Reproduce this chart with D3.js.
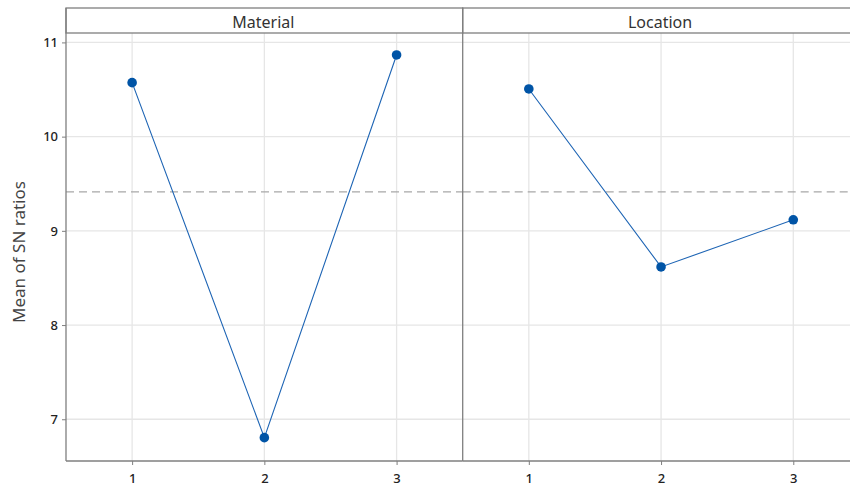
<!DOCTYPE html>
<html><head><meta charset="utf-8">
<script src="https://cdn.jsdelivr.net/npm/d3@7"></script>
<style>body{margin:0;background:#fff}svg{display:block}</style>
</head><body>
<script>
const panels = ["Material", "Location"];
const levels = [1, 2, 3];
const materialValues = [10.573, 6.805, 10.867];
const locationValues = [10.506, 8.617, 9.117];
const overallMean = 9.414;
const yTicks = [7, 8, 9, 10, 11];
const yLabel = "Mean of SN ratios";

const seriesValues = [materialValues, locationValues];
const W = 850, H = 488;
const mLeft = 66, mTop = 8, stripH = 25, mBottom = 461, panelW = 396.7;
const svg = d3.select("body").append("svg").attr("width", W).attr("height", H);
const font = "'Noto Sans', 'Open Sans', sans-serif";
const textCol = "#222";

const y = d3.scaleLinear().domain([6.557, 11.10]).range([mBottom, mTop + stripH]);

panels.forEach((name, i) => {
  const x0 = mLeft + i * panelW;
  const x = d3.scaleLinear().domain([0.5, 3.5]).range([x0, x0 + panelW]);
  const g = svg.append("g");
  g.selectAll(".hg").data(yTicks).join("line")
    .attr("x1", x0).attr("x2", x0 + panelW)
    .attr("y1", d => y(d)).attr("y2", d => y(d))
    .attr("stroke", "#e6e6e6").attr("stroke-width", 1.3);
  g.selectAll(".vg").data(levels).join("line")
    .attr("x1", d => x(d)).attr("x2", d => x(d))
    .attr("y1", mTop + stripH).attr("y2", mBottom)
    .attr("stroke", "#e6e6e6").attr("stroke-width", 1.3);
  g.append("line").attr("x1", x0).attr("x2", x0 + panelW)
    .attr("y1", y(overallMean)).attr("y2", y(overallMean))
    .attr("stroke", "#a8a8a8").attr("stroke-width", 1.3).attr("stroke-dasharray", "8,5");
  const vals = seriesValues[i];
  const pts = levels.map((l, j) => [l, vals[j]]);
  g.append("path").datum(pts)
    .attr("d", d3.line().x(d => x(d[0])).y(d => y(d[1])))
    .attr("fill", "none").attr("stroke", "#1d64b4").attr("stroke-width", 1.1);
  g.selectAll("circle").data(pts).join("circle")
    .attr("cx", d => x(d[0])).attr("cy", d => y(d[1])).attr("r", 4.8)
    .attr("fill", "#0054a6");
  g.append("rect").attr("x", x0).attr("y", mTop).attr("width", panelW).attr("height", stripH)
    .attr("fill", "#fff").attr("stroke", "#7f7f7f").attr("stroke-width", 1.3);
  g.append("text").attr("x", x0 + panelW / 2 - 1).attr("y", mTop + 20)
    .attr("text-anchor", "middle").attr("font-family", font).attr("font-size", 16)
    .attr("fill", "#333").text(name);
  const xa = svg.append("g").attr("transform", `translate(0,${mBottom})`)
    .call(d3.axisBottom(x).tickValues(levels).tickSize(4).tickFormat(d3.format("d")));
  xa.select(".domain").attr("stroke", "#7f7f7f").attr("stroke-width", 1.3)
    .attr("d", `M${x0},0H${x0 + panelW}`);
  xa.selectAll(".tick line").attr("stroke", "#7f7f7f");
  xa.selectAll(".tick text").attr("font-family", font).attr("font-size", 13)
    .attr("font-weight", 500).attr("fill", textCol).attr("dy", "1.15em");
  svg.append("line").attr("x1", x0).attr("x2", x0).attr("y1", mTop).attr("y2", mBottom)
    .attr("stroke", "#7f7f7f").attr("stroke-width", 1.3);
});

const ya = svg.append("g").attr("transform", `translate(${mLeft},0)`)
  .call(d3.axisLeft(y).tickValues(yTicks).tickSize(4).tickFormat(d3.format("d")));
ya.select(".domain").remove();
ya.selectAll(".tick line").attr("stroke", "#7f7f7f");
ya.selectAll(".tick text").attr("font-family", font).attr("font-size", 13)
  .attr("font-weight", 500).attr("fill", textCol).attr("dx", "-1");

svg.append("text")
  .attr("transform", `translate(25,${(mTop + stripH + mBottom) / 2 + 5}) rotate(-90)`)
  .attr("text-anchor", "middle").attr("font-family", font).attr("font-size", 17)
  .attr("fill", "#444").text(yLabel);
</script>
</body></html>
